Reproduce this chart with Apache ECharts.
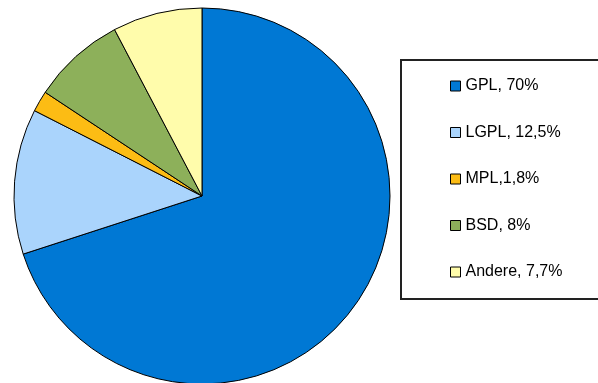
<!DOCTYPE html>
<html>
<head>
<meta charset="utf-8">
<script src="https://cdn.jsdelivr.net/npm/echarts@6/dist/echarts.min.js"></script>
<style>
html,body{margin:0;padding:0;background:#fff;}
#c{width:598px;height:383px;}
</style>
</head>
<body>
<div id="c"></div>
<script>
const categories = ['GPL, 70%', 'LGPL, 12,5%', 'MPL,1,8%', 'BSD, 8%', 'Andere, 7,7%'];
const values = [70, 12.5, 1.8, 8, 7.7];
const colors = ['#0078d4', '#aad4fc', '#fcbc14', '#8db05a', '#fffcab'];

const chart = echarts.init(document.getElementById('c'), null, {renderer: 'canvas'});
chart.setOption({
  animation: false,
  backgroundColor: '#fff',
  color: colors,
  graphic: [{
    type: 'rect',
    shape: {x: 401, y: 60, width: 220, height: 239},
    style: {fill: 'none', stroke: '#222', lineWidth: 2},
    z: 0
  }],
  legend: {
    orient: 'vertical',
    left: 450,
    top: 78,
    padding: 0,
    itemWidth: 10,
    itemHeight: 10,
    itemGap: 30.5,
    icon: 'rect',
    selectedMode: false,
    itemStyle: {borderColor: '#000', borderWidth: 1},
    textStyle: {
      fontFamily: 'Liberation Sans, Arial, sans-serif',
      fontSize: 16,
      lineHeight: 16,
      color: '#000',
      padding: [0, 0, 0, 0]
    },
    data: categories
  },
  series: [{
    type: 'pie',
    center: [202, 196],
    radius: [0, 188],
    startAngle: 90,
    clockwise: true,
    label: {show: false},
    labelLine: {show: false},
    emphasis: {disabled: true},
    itemStyle: {borderColor: '#000', borderWidth: 1},
    data: categories.map((n, i) => ({name: n, value: values[i]}))
  }]
});
</script>
</body>
</html>
